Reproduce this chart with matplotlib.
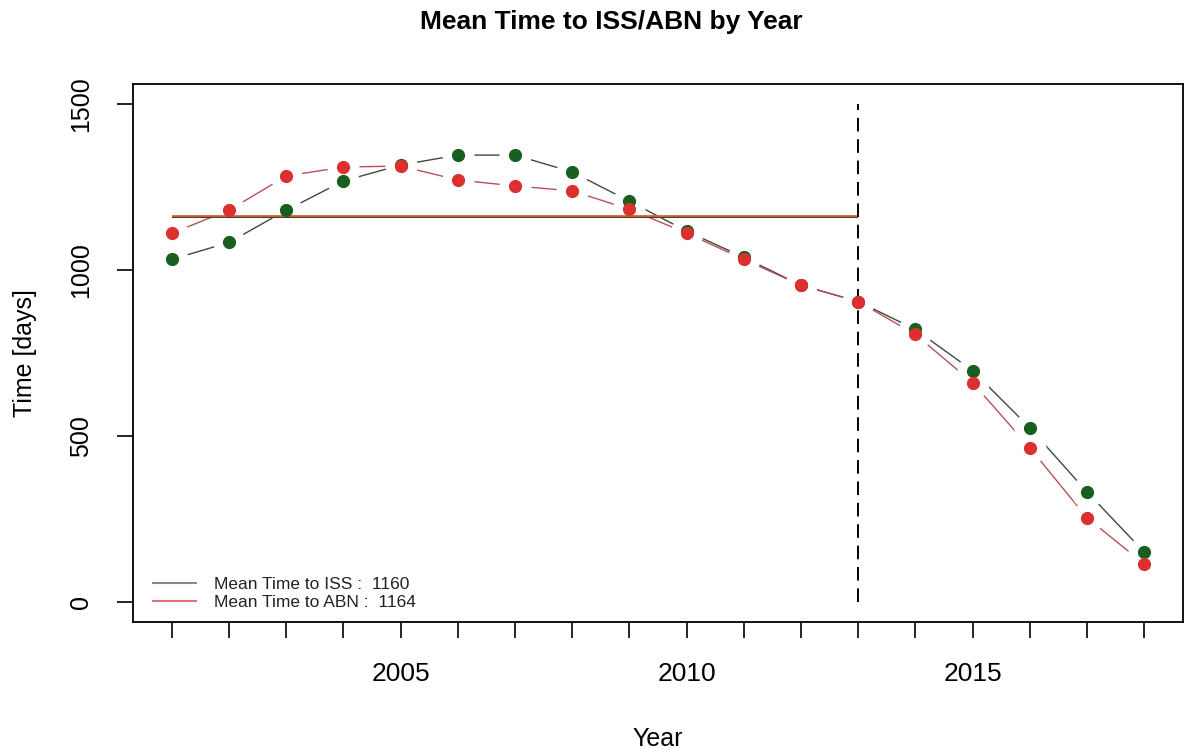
import matplotlib
matplotlib.use('Agg')
import matplotlib.pyplot as plt
from matplotlib.lines import Line2D

plt.rcParams['font.family'] = ['Liberation Sans', 'DejaVu Sans']

# valores
years = list(range(2001, 2019))
iss = [1032, 1083, 1180, 1268, 1316, 1346, 1346, 1295, 1207, 1117,
       1038, 954, 905, 821, 697, 525, 332, 151]
abn = [1111, 1180, 1283, 1310, 1313, 1271, 1253, 1238, 1183, 1111,
       1032, 954, 905, 806, 661, 465, 254, 115]
mean_iss = 1160
mean_abn = 1164
cut_year = 2013
xtick_labels = ['', '', '', '', '2005', '', '', '', '', '2010',
                '', '', '', '', '2015', '', '', '']
yticks = [0, 500, 1000, 1500]

green = '#1a5e1f'
red = '#dc3030'

fig = plt.figure(figsize=(11.88, 7.53), dpi=100)
ax = fig.add_axes([133/1188, 1 - 622/753, 1050/1188, 538/753])

# linhas entre os pontos com intervalo em volta (como type="b" do R)
ax.plot(years, iss, color='#3e4a3e', lw=1.0, zorder=2)
ax.plot(years, abn, color='#b85058', lw=1.0, zorder=2)
ax.plot(years, iss, ls='none', marker='o', ms=22, color='white', zorder=3)
ax.plot(years, abn, ls='none', marker='o', ms=22, color='white', zorder=3)

# medias e corte
ax.hlines(mean_iss, years[0], cut_year, color='#4a3a1a', lw=1.4, zorder=3.5)
ax.hlines(mean_abn, years[0], cut_year, color='#d8603a', lw=1.3, zorder=3.5)
ax.vlines(cut_year, 0, 1500, color='black', lw=1.4, linestyles=(0, (7, 4)), zorder=3.5)

ax.plot(years, iss, ls='none', marker='o', ms=8.5, color=green, zorder=4)
ax.plot(years, abn, ls='none', marker='o', ms=8.5, color=red, zorder=5)

ax.set_xlim(2001 - 0.68, 2018 + 0.68)
ax.set_ylim(-60, 1560)
ax.set_xticks(years)
ax.set_xticklabels(xtick_labels, fontsize=19)
ax.set_yticks(yticks)
ax.set_yticklabels([str(v) for v in yticks], fontsize=18, rotation=90, va='center')
ax.tick_params(length=11.5, width=1.2, pad=17, direction='out')
for s in ax.spines.values():
    s.set_linewidth(1.3)

ax.set_xlabel('Year', fontsize=18, labelpad=30)
fig.text(25/1188, 1 - 353/753, 'Time [days]', fontsize=18, rotation=90,
         ha='center', va='center')
fig.text(611/1188, 1 - 22/753, 'Mean Time to ISS/ABN by Year', fontsize=19,
         fontweight='bold', ha='center', va='center')

handles = [Line2D([], [], color='#7f8f7f', lw=1.5),
           Line2D([], [], color='#e07080', lw=1.5)]
labels = ['Mean Time to ISS :  %d' % mean_iss, 'Mean Time to ABN :  %d' % mean_abn]
ax.legend(handles, labels, loc='lower left', bbox_to_anchor=(0.0124, 0.009),
          borderaxespad=0, frameon=False, fontsize=12.5, handlelength=2.5,
          handletextpad=1.0, labelspacing=0.2, labelcolor='#222222')

fig.savefig('out.png', dpi=100)
